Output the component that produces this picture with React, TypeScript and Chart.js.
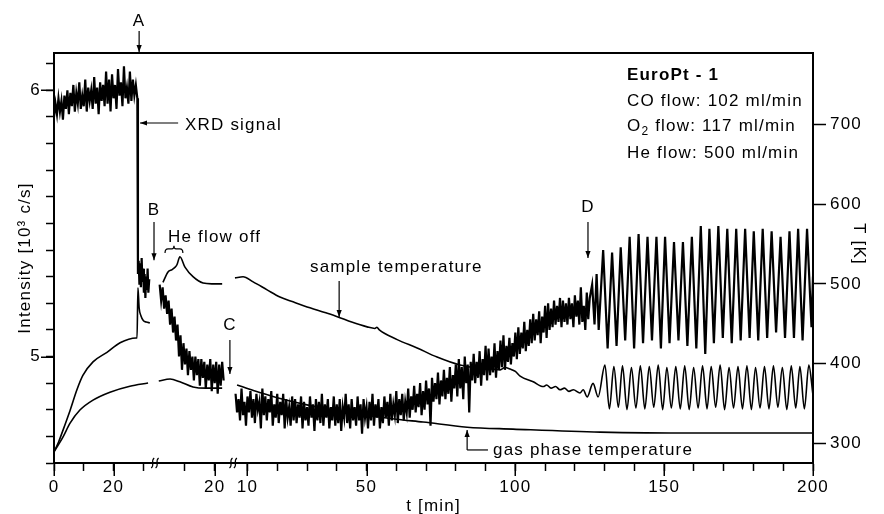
import React, { useEffect, useRef } from 'react';
import { Chart, registerables } from 'chart.js';

Chart.register(...registerables);

// ---------- broken time axis: every segment has its own clock ----------
const SEG_OFFSET = [0, 34, 55]; // axis position of t = 0 for segment 1, 2, 3
const AXIS_MAX = 255;
const BREAKS = [33.9, 60.2];

const X_TICKS_SEG1 = [0, 10, 20, 30];
const X_TICKS_SEG2 = [10, 20];
const X_TICKS_SEG3 = [10, 20, 30, 40, 50, 60, 70, 80, 90, 100, 110, 120, 130, 140, 150, 160, 170, 180, 190, 200];
const X_LABELS_SEG1 = [0, 20];
const X_LABELS_SEG2 = [20];
const X_LABELS_SEG3 = [10, 50, 100, 150, 200];

const Y_LEFT_TICKS = [4.6, 4.7, 4.8, 4.9, 5, 5.1, 5.2, 5.3, 5.4, 5.5, 5.6, 5.7, 5.8, 5.9, 6, 6.1];
const Y_LEFT_LABELS = [5, 6];
const Y_RIGHT_TICKS = [300, 400, 500, 600, 700];

// ---------- XRD signal (10^3 c/s), sampled every 0.5 min ----------
const XRD_S1_T0 = 0;
const XRD_S1_DT = 0.5;
const XRD_S1 = [
  5.90, 5.95, 5.91, 5.97, 5.92, 5.96, 5.89, 5.98, 5.93, 6.00,
  5.91, 5.99, 5.94, 6.02, 5.92, 5.99, 5.95, 6.03, 5.93, 5.98,
  5.94, 6.04, 5.92, 6.01, 5.96, 6.00, 5.93, 6.05, 5.95, 6.01,
  5.91, 6.03, 5.96, 6.02, 5.94, 6.07, 5.95, 6.04, 5.92, 6.06,
  5.97, 6.02, 5.93, 6.08, 5.98, 6.03, 5.94, 6.09, 5.97, 6.01,
  5.95, 6.07, 5.96, 6.04, 5.98, 6.02, 5.97,
];
const XRD_S1_DROP_T = [28.2, 28.45, 28.7, 28.95, 29.2, 29.45, 29.7, 29.95, 30.2, 30.45, 30.7, 30.95, 31.2, 31.45, 31.7, 32.0];
const XRD_S1_DROP = [5.31, 5.36, 5.27, 5.35, 5.26, 5.37, 5.28, 5.33, 5.24, 5.31, 5.22, 5.30, 5.25, 5.33, 5.24, 5.29];

const XRD_S2_T0 = 1.5;
const XRD_S2_DT = 0.5;
const XRD_S2 = [
  5.27, 5.21, 5.26, 5.18, 5.23, 5.16, 5.21, 5.12, 5.18, 5.09,
  5.15, 5.06, 5.12, 5.00, 5.08, 4.95, 5.05, 4.97, 5.03, 4.93,
  5.02, 4.95, 5.00, 4.91, 5.00, 4.93, 4.99, 4.89, 4.99, 4.92,
  4.98, 4.88, 4.97, 4.91, 4.99, 4.87, 4.97, 4.90, 4.98, 4.86,
  4.97, 4.89, 4.98, 4.91,
];

const XRD_S3_T0 = 6;
const XRD_S3_DT = 0.5;
const XRD_S3 = [
  4.86, 4.79, 4.84, 4.76, 4.88, 4.78, 4.83, 4.74, 4.85, 4.79,
  4.87, 4.77, 4.84, 4.75, 4.86, 4.80, 4.83, 4.73, 4.88, 4.78,
  4.85, 4.76, 4.84, 4.79, 4.87, 4.74, 4.82, 4.77, 4.86, 4.75,
  4.83, 4.78, 4.86, 4.73, 4.84, 4.77, 4.81, 4.74, 4.85, 4.76,
  4.84, 4.75, 4.82, 4.77, 4.85, 4.73, 4.83, 4.76, 4.81, 4.74,
  4.85, 4.77, 4.82, 4.72, 4.84, 4.76, 4.83, 4.75, 4.86, 4.74,
  4.82, 4.77, 4.84, 4.73, 4.81, 4.76, 4.85, 4.74, 4.82, 4.75,
  4.84, 4.72, 4.81, 4.77, 4.86, 4.75, 4.82, 4.73, 4.84, 4.76,
  4.81, 4.74, 4.85, 4.76, 4.82, 4.71, 4.84, 4.77, 4.81, 4.73,
  4.83, 4.76, 4.86, 4.74, 4.82, 4.77, 4.84, 4.73, 4.81, 4.75,
  4.85, 4.77, 4.83, 4.74, 4.86, 4.76, 4.82, 4.78, 4.87, 4.75,
  4.84, 4.78, 4.86, 4.76, 4.83, 4.79, 4.88, 4.77, 4.85, 4.80,
  4.89, 4.79, 4.86, 4.81, 4.90, 4.78, 4.87, 4.80, 4.91, 4.82,
  4.88, 4.74, 4.92, 4.83, 4.90, 4.84, 4.94, 4.82, 4.91, 4.85,
  4.95, 4.84, 4.92, 4.86, 4.96, 4.83, 4.93, 4.88, 4.97, 4.85,
  4.99, 4.88, 4.96, 4.84, 5.00, 4.90, 4.97, 4.79, 4.98, 4.91,
  5.01, 4.90, 4.98, 4.92, 5.02, 4.89, 4.99, 4.93, 5.04, 4.91,
  5.03, 4.93, 5.00, 4.94, 5.05, 4.92, 5.02, 4.95, 5.06, 4.96,
  5.08, 4.95, 5.04, 4.98, 5.07, 4.97, 5.05, 5.00, 5.09, 4.99,
  5.11, 5.01, 5.09, 5.03, 5.13, 5.02, 5.10, 5.04, 5.14, 5.05,
  5.16, 5.06, 5.14, 5.08, 5.17, 5.05, 5.15, 5.09, 5.19, 5.07,
  5.20, 5.10, 5.18, 5.11, 5.21, 5.12, 5.19, 5.13, 5.22, 5.11,
  5.21, 5.13, 5.20, 5.12, 5.22, 5.14, 5.20, 5.11, 5.23, 5.15,
  5.21, 5.12, 5.26, 5.13, 5.19, 5.10, 5.24, 5.14, 5.22,
];
// oscillating regime after D (peaks / troughs)
const XRD_OSC_T = [
  125.8, 126.6, 127.3, 128.0, 129.5, 131.0, 132.5, 134.0, 135.4, 136.9,
  138.4, 139.9, 141.4, 142.9, 144.4, 145.9, 147.4, 148.9, 150.3, 151.8,
  153.3, 154.8, 156.3, 157.8, 159.3, 160.8, 162.3, 163.8, 165.2, 166.7,
  168.2, 169.7, 171.2, 172.7, 174.2, 175.7, 177.2, 178.7, 180.1, 181.6,
  183.1, 184.6, 186.1, 187.6, 189.1, 190.6, 192.1, 193.6, 195.0, 196.5,
  198.0, 199.5, 200.0,
];
const XRD_OSC = [
  5.27, 5.12, 5.31, 5.10, 5.40, 5.03, 5.39, 5.04, 5.41, 5.06,
  5.45, 5.03, 5.46, 5.05, 5.45, 5.06, 5.45, 5.03, 5.45, 5.05,
  5.43, 5.06, 5.43, 5.04, 5.45, 5.03, 5.49, 5.01, 5.48, 5.05,
  5.49, 5.07, 5.48, 5.05, 5.48, 5.06, 5.48, 5.07, 5.47, 5.06,
  5.48, 5.07, 5.47, 5.09, 5.45, 5.07, 5.47, 5.07, 5.48, 5.06,
  5.48, 5.11, 5.30,
];

// ---------- sample temperature (K) ----------
const SAMPLE_S1_T = [0, 1.5, 3.0, 5.4, 7.7, 9.7, 13.1, 17.8, 22.2, 27.6, 27.9, 28.2, 28.6, 29.2, 30.0, 31.0, 32.2];
const SAMPLE_S1 = [289, 301, 316, 341, 367, 385, 402, 414, 426, 432, 432, 495, 470, 460, 454, 452, 451];
const SAMPLE_S2_T = [2.6, 4.3, 5.7, 6.7, 7.3, 8.3, 10.0, 12.7, 16.1, 19.0, 22.5];
const SAMPLE_S2 = [502, 515, 518, 521, 524, 534, 521, 509, 501, 500, 500];
const SAMPLE_S3_T = [
  5.8, 8.5, 11.9, 16.6, 20.9, 25.3, 31.0, 36.0, 40.4, 45.0,
  50.2, 52.8, 53.5, 54.2, 60.3, 67.0, 73.7, 81.4, 88.0, 92.0,
  94.9, 96.5, 98.3, 100.0, 101.6, 106.0, 109.4, 110.5, 112.0, 113.5,
  115.0, 116.5, 118.0, 119.5, 121.7, 122.8, 124.1, 126.1, 127.8,
  130.1, 131.6, 133.1, 134.6, 136.0, 137.5, 139.0, 140.5, 142.0, 143.5,
  145.0, 146.5, 148.0, 149.5, 150.9, 152.4, 153.9, 155.4, 156.9, 158.4,
  159.9, 161.4, 162.9, 164.4, 165.8, 167.3, 168.8, 170.3, 171.8, 173.3,
  174.8, 176.3, 177.8, 179.3, 180.7, 182.2, 183.7, 185.2, 186.7, 188.2,
  189.7, 191.2, 192.7, 194.2, 195.6, 197.1, 198.6, 200.0,
];
const SAMPLE_S3 = [
  507.5, 509, 502.5, 492.5, 483.5, 477.5, 470, 464, 458.5, 452,
  446, 444, 445.5, 442.5, 430, 419.5, 408, 398, 394, 393,
  392, 395, 393, 390, 384, 377, 371, 373, 369, 371,
  367, 369, 365, 367, 363, 367, 358, 375, 358,
  398, 343, 396, 345, 397, 342, 395, 344, 397, 343,
  396, 345, 398, 342, 395, 344, 396, 343, 397, 342,
  395, 344, 397, 343, 396, 345, 398, 342, 395, 344,
  396, 343, 397, 342, 395, 344, 396, 343, 397, 345,
  395, 342, 397, 344, 396, 343, 398, 360,
];

// ---------- gas phase temperature (K) ----------
const GAS_S1_T = [0, 3.0, 5.4, 8.7, 13.1, 18.8, 25.5, 31.6];
const GAS_S1 = [289, 307.5, 325, 341.5, 354, 364, 371.5, 375.5];
const GAS_S2_T = [1.2, 5.0, 8.3, 12.7, 17.0, 22.5];
const GAS_S2 = [378, 380.5, 377, 370.5, 369, 369];
const GAS_S3_T = [6.5, 12, 20, 30, 40, 50, 60, 69, 83.8, 99.2, 128.5, 161, 200];
const GAS_S3 = [373, 366, 357, 348, 341, 335, 330, 326.4, 320, 317.6, 313.8, 312.6, 312.6];

// ---------- styling ----------
const FAMILY = '"Liberation Sans", Arial, Helvetica, sans-serif';
const FONT_SIZE = 17;
const LETTER_SPACING = '1.2px';
const MINOR_TICK = 8;
const MAJOR_TICK = 13;

const seq = (t0: number, dt: number, vals: number[], off: number) =>
  vals.map((v, i) => ({ x: off + t0 + i * dt, y: v }));
const pairs = (ts: number[], vals: number[], off: number) =>
  ts.map((t, i) => ({ x: off + t, y: vals[i] }));

const xTickPositions = [
  ...X_TICKS_SEG1.map((t) => t + SEG_OFFSET[0]),
  ...X_TICKS_SEG2.map((t) => t + SEG_OFFSET[1]),
  ...X_TICKS_SEG3.map((t) => t + SEG_OFFSET[2]),
];
const xLabelEntries: [number, string][] = [
  ...X_LABELS_SEG1.map((t) => [t + SEG_OFFSET[0], String(t)] as [number, string]),
  ...X_LABELS_SEG2.map((t) => [t + SEG_OFFSET[1], String(t)] as [number, string]),
  ...X_LABELS_SEG3.map((t) => [t + SEG_OFFSET[2], String(t)] as [number, string]),
];
const xLabelFor = (v: number) => {
  const e = xLabelEntries.find(([p]) => Math.abs(p - v) < 1e-6);
  return e ? e[1] : '';
};

function line(ctx: any, x1: number, y1: number, x2: number, y2: number) {
  ctx.beginPath();
  ctx.moveTo(x1, y1);
  ctx.lineTo(x2, y2);
  ctx.stroke();
}

function arrow(ctx: any, x1: number, y1: number, x2: number, y2: number) {
  line(ctx, x1, y1, x2, y2);
  const a = Math.atan2(y2 - y1, x2 - x1);
  const L = 7;
  const W = 2.6;
  ctx.beginPath();
  ctx.moveTo(x2, y2);
  ctx.lineTo(x2 - L * Math.cos(a) + W * Math.sin(a), y2 - L * Math.sin(a) - W * Math.cos(a));
  ctx.lineTo(x2 - L * Math.cos(a) - W * Math.sin(a), y2 - L * Math.sin(a) + W * Math.cos(a));
  ctx.closePath();
  ctx.fill();
}

function text(ctx: any, s: string, x: number, y: number, align: string, bold = false, size = FONT_SIZE) {
  ctx.font = `${bold ? 'bold ' : ''}${size}px ${FAMILY}`;
  ctx.textAlign = align;
  ctx.textBaseline = 'middle';
  ctx.fillText(s, x, y);
}

const annotationPlugin = {
  id: 'annotations',
  beforeDraw(chart: any) {
    chart.ctx.letterSpacing = LETTER_SPACING;
  },
  afterDraw(chart: any) {
    const { ctx, chartArea: ca, scales } = chart;
    const X = (u: number) => scales.x.getPixelForValue(u);
    const YL = (v: number) => scales.yL.getPixelForValue(v);
    ctx.save();
    ctx.letterSpacing = LETTER_SPACING;
    ctx.strokeStyle = '#000';
    ctx.fillStyle = '#000';

    // top frame
    ctx.lineWidth = 2;
    line(ctx, ca.left - 1, ca.top, ca.right + 1, ca.top);

    // longer ticks at labelled values
    ctx.lineWidth = 1.5;
    for (const v of Y_LEFT_LABELS) {
      const y = Math.round(YL(v)) + 0.25;
      line(ctx, ca.left - MAJOR_TICK, y, ca.left, y);
    }
    for (const [p] of xLabelEntries) {
      const x = Math.round(X(p)) + 0.25;
      line(ctx, x, ca.bottom, x, ca.bottom + MAJOR_TICK);
    }

    // axis break marks
    ctx.lineWidth = 1.2;
    for (const b of BREAKS) {
      const x = X(b);
      for (const dx of [-2.2, 2.2]) {
        ctx.beginPath();
        ctx.moveTo(x + dx - 1.5, ca.bottom + 5);
        ctx.bezierCurveTo(x + dx + 2.5, ca.bottom + 2, x + dx - 2.5, ca.bottom - 2, x + dx + 1.5, ca.bottom - 5);
        ctx.stroke();
      }
    }

    // annotations
    ctx.lineWidth = 1.2;
    // A
    text(ctx, 'A', X(28.6), ca.top - 32, 'center');
    arrow(ctx, X(28.6), ca.top - 22, X(28.6), ca.top - 1);
    // XRD signal
    text(ctx, 'XRD signal', X(44.0), YL(5.870), 'left');
    arrow(ctx, X(41.7), YL(5.877), X(28.9), YL(5.877));
    // B
    text(ctx, 'B', X(33.6), YL(5.550), 'center');
    arrow(ctx, X(33.6), YL(5.505), X(33.6), YL(5.362));
    // He flow off + brace
    text(ctx, 'He flow off', X(38.3), YL(5.449), 'left');
    {
      const xa = X(37.3);
      const xb = X(43.3);
      const xm = (xa + xb) / 2;
      const yEnd = YL(5.389);
      const yBar = YL(5.404);
      const yTip = YL(5.416);
      ctx.beginPath();
      ctx.moveTo(xa, yEnd);
      ctx.quadraticCurveTo(xa, yBar, xa + 3, yBar);
      ctx.lineTo(xm - 2, yBar);
      ctx.quadraticCurveTo(xm, yBar, xm, yTip);
      ctx.quadraticCurveTo(xm, yBar, xm + 2, yBar);
      ctx.lineTo(xb - 3, yBar);
      ctx.quadraticCurveTo(xb, yBar, xb, yEnd);
      ctx.stroke();
    }
    // C
    text(ctx, 'C', X(59.1), YL(5.118), 'center');
    arrow(ctx, X(59.1), YL(5.062), X(59.1), YL(4.934));
    // sample temperature
    text(ctx, 'sample temperature', X(86.0), YL(5.336), 'left');
    arrow(ctx, X(95.8), YL(5.284), X(95.8), YL(5.148));
    // D
    text(ctx, 'D', X(179.4), YL(5.562), 'center');
    arrow(ctx, X(179.4), YL(5.505), X(179.4), YL(5.370));
    // gas phase temperature
    text(ctx, 'gas phase temperature', X(147.5), YL(4.649), 'left');
    line(ctx, X(145.8), YL(4.649), X(138.8), YL(4.649));
    arrow(ctx, X(138.8), YL(4.649), X(138.8), YL(4.724));

    // experiment info block
    const ix = X(192.5);
    text(ctx, 'EuroPt - 1', ix, YL(6.057), 'left', true);
    text(ctx, 'CO flow: 102 ml/min', ix, YL(5.960), 'left');
    {
      const y = YL(5.864);
      text(ctx, 'O', ix, y, 'left');
      const wO = ctx.measureText('O').width;
      text(ctx, '2', ix + wO, y + 5, 'left', false, 12);
      const w2 = ctx.measureText('2').width;
      text(ctx, ' flow: 117 ml/min', ix + wO + w2, y, 'left');
    }
    text(ctx, 'He flow: 500 ml/min', ix, YL(5.763), 'left');

    // right axis title (T [K]), rotated clockwise
    ctx.save();
    ctx.translate(ca.right + 46, (ca.top + ca.bottom) / 2 - 14);
    ctx.rotate(Math.PI / 2);
    text(ctx, 'T [K]', 0, 0, 'center');
    ctx.restore();

    ctx.restore();
  },
};

export default function App() {
  const ref = useRef<HTMLCanvasElement>(null);

  useEffect(() => {
    const canvas = ref.current;
    if (!canvas) return;
    const font = { family: FAMILY, size: FONT_SIZE };
    const base = { borderColor: '#000', pointRadius: 0, fill: false };
    const noisy = { ...base, borderWidth: 2.2, tension: 0, borderJoinStyle: 'miter' };
    const smooth = { ...base, borderWidth: 1.6, cubicInterpolationMode: 'monotone' };

    const datasets: any[] = [
      { ...noisy, label: 'XRD 1', yAxisID: 'yL', data: [...seq(XRD_S1_T0, XRD_S1_DT, XRD_S1, SEG_OFFSET[0]), ...pairs(XRD_S1_DROP_T, XRD_S1_DROP, SEG_OFFSET[0])] },
      { ...noisy, label: 'XRD 2', yAxisID: 'yL', data: seq(XRD_S2_T0, XRD_S2_DT, XRD_S2, SEG_OFFSET[1]) },
      { ...noisy, label: 'XRD 3', yAxisID: 'yL', data: [...seq(XRD_S3_T0, XRD_S3_DT, XRD_S3, SEG_OFFSET[2]), ...pairs(XRD_OSC_T, XRD_OSC, SEG_OFFSET[2])] },
      { ...smooth, label: 'sample 1', yAxisID: 'yR', data: pairs(SAMPLE_S1_T, SAMPLE_S1, SEG_OFFSET[0]) },
      { ...smooth, label: 'sample 2', yAxisID: 'yR', data: pairs(SAMPLE_S2_T, SAMPLE_S2, SEG_OFFSET[1]) },
      { ...smooth, label: 'sample 3', yAxisID: 'yR', data: pairs(SAMPLE_S3_T, SAMPLE_S3, SEG_OFFSET[2]) },
      { ...smooth, label: 'gas 1', yAxisID: 'yR', data: pairs(GAS_S1_T, GAS_S1, SEG_OFFSET[0]) },
      { ...smooth, label: 'gas 2', yAxisID: 'yR', data: pairs(GAS_S2_T, GAS_S2, SEG_OFFSET[1]) },
      { ...smooth, label: 'gas 3', yAxisID: 'yR', data: pairs(GAS_S3_T, GAS_S3, SEG_OFFSET[2]) },
    ];

    const chart = new Chart(canvas, {
      type: 'line',
      data: { datasets },
      options: {
        animation: false,
        responsive: false,
        devicePixelRatio: 1,
        layout: { padding: { top: 53, left: 0, right: 0, bottom: 0 } },
        plugins: { legend: { display: false }, tooltip: { enabled: false } },
        elements: { point: { radius: 0 } },
        scales: {
          x: {
            type: 'linear',
            position: 'bottom',
            min: 0,
            max: AXIS_MAX,
            afterFit: (s: any) => { s.height = 51; },
            afterBuildTicks: (s: any) => { s.ticks = xTickPositions.map((v) => ({ value: v })); },
            ticks: { callback: (v: any) => xLabelFor(Number(v)), autoSkip: false, maxRotation: 0, padding: 6, color: '#000', font },
            grid: { drawOnChartArea: false, drawTicks: true, tickLength: MINOR_TICK, tickWidth: 1.5, tickColor: '#000' },
            border: { display: true, color: '#000', width: 2 },
            title: { display: true, text: 't [min]', color: '#000', font, padding: { top: 0, bottom: -3 } },
          },
          yL: {
            type: 'linear',
            position: 'left',
            min: 4.6,
            max: 6.14,
            afterFit: (s: any) => { s.width = 54; },
            afterBuildTicks: (s: any) => { s.ticks = Y_LEFT_TICKS.map((v) => ({ value: v })); },
            ticks: {
              callback: (v: any) => (Y_LEFT_LABELS.some((l) => Math.abs(l - Number(v)) < 1e-6) ? String(Math.round(Number(v))) : ''),
              padding: 5,
              color: '#000',
              font,
            },
            grid: { drawOnChartArea: false, drawTicks: true, tickLength: MINOR_TICK, tickWidth: 1.5, tickColor: '#000' },
            border: { display: true, color: '#000', width: 2 },
            title: { display: true, text: 'Intensity [10³ c/s]', color: '#000', font, padding: { top: 15, bottom: 0 } },
          },
          yR: {
            type: 'linear',
            position: 'right',
            min: 275,
            max: 790,
            afterFit: (s: any) => { s.width = 71; },
            afterBuildTicks: (s: any) => { s.ticks = Y_RIGHT_TICKS.map((v) => ({ value: v })); },
            ticks: { callback: (v: any) => String(v), padding: 4, color: '#000', font },
            grid: { drawOnChartArea: false, drawTicks: true, tickLength: MAJOR_TICK, tickWidth: 1.5, tickColor: '#000' },
            border: { display: true, color: '#000', width: 2 },
            title: { display: false },
          },
        },
      } as any,
      plugins: [annotationPlugin],
    });
    return () => chart.destroy();
  }, []);

  return (
    <div style={{ position: 'fixed', left: 0, top: 0, width: 884, height: 514, background: '#fff' }}>
      <canvas ref={ref} width={884} height={514} style={{ display: 'block', width: 884, height: 514 }} />
    </div>
  );
}
